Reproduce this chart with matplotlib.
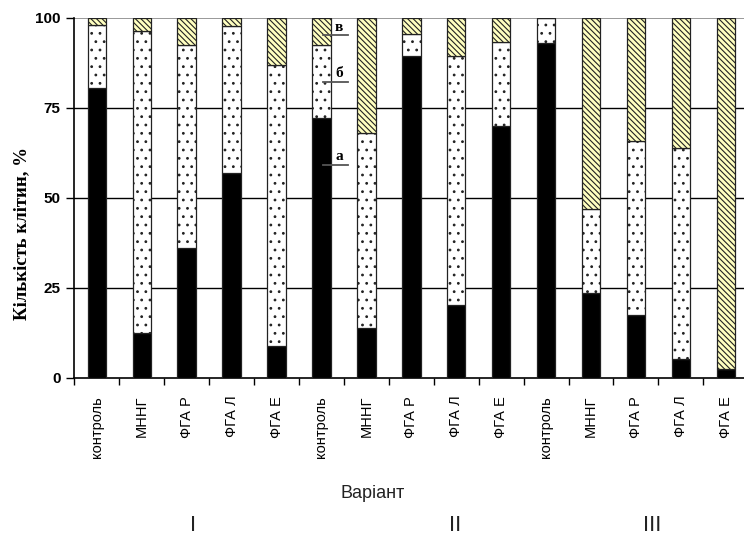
import matplotlib
matplotlib.use("Agg")
import matplotlib.pyplot as plt
import numpy as np

categories = ['контроль', 'МННГ', 'ФГА Р', 'ФГА Л', 'ФГА Е',
              'контроль', 'МННГ', 'ФГА Р', 'ФГА Л', 'ФГА Е',
              'контроль', 'МННГ', 'ФГА Р', 'ФГА Л', 'ФГА Е']
series_a = [80.6, 12.3, 36.1, 56.9, 8.8, 72.2, 13.9, 89.4, 20.1, 69.9, 93.1, 23.6, 17.4, 5.1, 2.4]
series_b = [17.4, 84.0, 56.3, 40.8, 78.1, 20.2, 54.2, 6.2, 69.3, 23.3, 6.9, 23.3, 48.4, 58.8, 0.0]
series_c = [2.0, 3.7, 7.6, 2.3, 13.1, 7.6, 31.9, 4.4, 10.6, 6.8, 0.0, 53.1, 34.2, 36.1, 97.6]
yticks = [0, 25, 50, 75, 100]
groups = ['I', 'II', 'III']
series_names = ['а', 'б', 'в']

plt.rcParams['hatch.linewidth'] = 0.8
fig = plt.figure(figsize=(7.44, 5.39), dpi=100)
W, H = 744, 539
left_px, bottom_px, top_px, step_px = 74.4, 377.7, 17.7, 44.92
n = len(categories)
ax = fig.add_axes([left_px / W, 1 - bottom_px / H, n * step_px / W, (bottom_px - top_px) / H])

x = np.arange(n)
a = np.array(series_a)
b = np.array(series_b)
c = np.array(series_c)
bw = 0.41
ax.bar(x, a, bw, color='black', edgecolor='#222222', linewidth=0.9, zorder=3)
ax.bar(x, b, bw, bottom=a, color='white', edgecolor='#222222', hatch='..', linewidth=0.9, zorder=3)
ax.bar(x, c, bw, bottom=a + b, color='#ffffc0', edgecolor='#222222', hatch='\\\\\\\\\\\\', linewidth=0.9, zorder=3)

ax.set_xlim(-0.5, n - 0.5)
ax.set_ylim(0, 100)
ax.set_yticks(yticks)
ax.set_yticklabels([str(v) for v in yticks], fontsize=11, fontweight='bold', family='Liberation Sans')
for v in yticks[1:-1]:
    ax.axhline(v, color='black', linewidth=1.0, zorder=1)
ax.axhline(100, color='#888888', linewidth=1.2, zorder=1)

ax.set_xticks(x)
ax.set_xticklabels(categories, rotation=90, fontsize=10.5, family='Liberation Sans')
ax.set_xticks(np.arange(n + 1) - 0.5, minor=True)
ax.tick_params(axis='x', which='major', length=0, pad=13)
ax.tick_params(axis='x', which='minor', length=5, width=1, direction='out', color='black')
ax.tick_params(axis='y', length=6, width=1, direction='out', pad=4)

for s in ['top', 'right']:
    ax.spines[s].set_visible(False)
ax.spines['left'].set_linewidth(1.2)
ax.spines['bottom'].set_linewidth(1.2)

# series labels next to the 6th bar
lab_y = [59.1, 82.2, 95.2]
for name, yy in zip(series_names, lab_y):
    ax.plot([5.04, 5.59], [yy, yy], color='#555555', linewidth=1.3, zorder=4, clip_on=False)
    ax.text(5.39, yy + 0.4, name, ha='center', va='bottom', fontsize=11,
            fontweight='bold', family='Liberation Serif', zorder=5)

fig.text(22 / W, 1 - 234 / H, 'Кількість клітин, %', rotation=90, ha='center', va='center',
         fontsize=13.5, fontweight='bold', family='Liberation Serif')
fig.text(373 / W, 1 - 493 / H, 'Варіант', ha='center', va='center', fontsize=13,
         family='Liberation Sans', color='#222222')
for g, px in zip(groups, [193, 455, 652]):
    fig.text(px / W, 1 - 536 / H, g, ha='center', va='bottom', fontsize=16,
             family='Liberation Sans', color='#222222')

fig.savefig('out.png', dpi=100)
